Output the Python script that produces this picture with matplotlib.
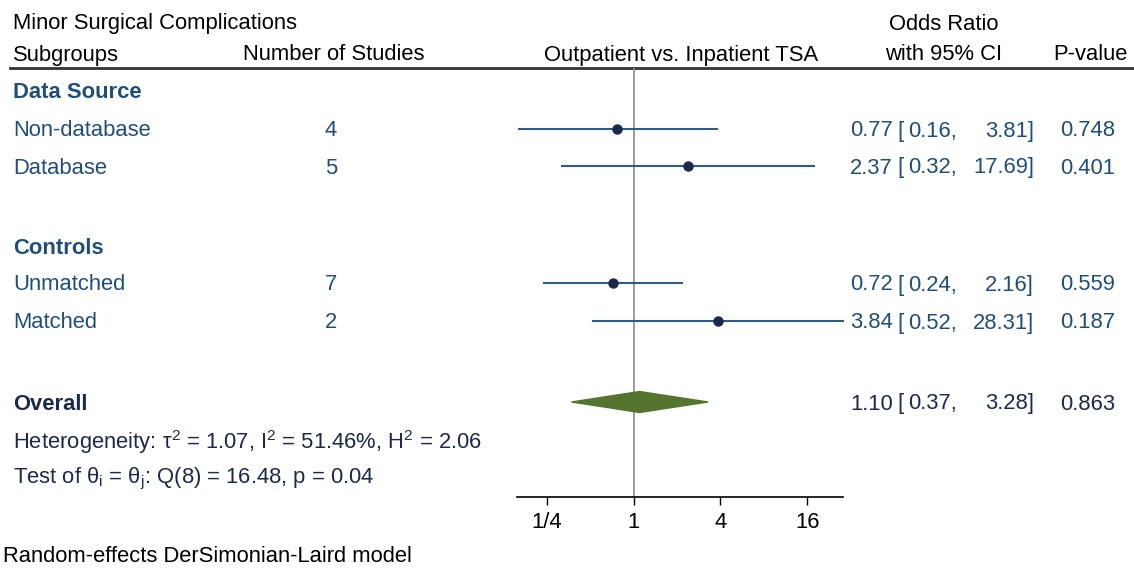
import matplotlib.pyplot as plt
from matplotlib.patches import Polygon

plt.rcParams['font.family'] = ['Liberation Sans', 'DejaVu Sans']
plt.rcParams['mathtext.fontset'] = 'custom'
plt.rcParams['mathtext.rm'] = 'Liberation Sans'
plt.rcParams['mathtext.it'] = 'Liberation Sans:italic'

# data
groups = ['Data Source', 'Controls']
subgroups = ['Non-database', 'Database', 'Unmatched', 'Matched']
n_studies = [4, 5, 7, 2]
odds = [0.77, 2.37, 0.72, 3.84]
ci_low = [0.16, 0.32, 0.24, 0.52]
ci_high = [3.81, 17.69, 2.16, 28.31]
p_vals = ['0.748', '0.401', '0.559', '0.187']

overall_or = 1.10
overall_low = 0.37
overall_high = 3.28
overall_p = '0.863'

# layout (pixel rows of the 1134x568 canvas)
W, H = 1134, 568
group_y = [91, 246]
sub_y = [129, 166, 283, 321]
overall_y = 402
het_y, test_y = 440, 477
top_rule, axis_y = 68, 497
plot_x0, plot_x1 = 517, 843
dy = 2  # text baseline nudge

blue = '#1f4e79'
dark = '#1b2a4a'
line_c = '#2e5b88'
fs = 15.8

fig = plt.figure(figsize=(W / 100, H / 100), dpi=100)

# text layer in pixel coords
tx = fig.add_axes([0, 0, 1, 1])
tx.set_xlim(0, W)
tx.set_ylim(H, 0)
tx.axis('off')

# forest axes
ax = fig.add_axes([plot_x0 / W, 1 - axis_y / H, (plot_x1 - plot_x0) / W, (axis_y - top_rule) / H])
ax.set_xscale('log', base=2)
ax.set_xlim(0.155, 28.31)
ax.set_ylim(axis_y, top_rule)
ax.patch.set_alpha(0)
for s in ['top', 'right', 'left']:
    ax.spines[s].set_visible(False)
ax.spines['bottom'].set_linewidth(1.2)
ax.set_yticks([])
ax.set_xticks([0.25, 1, 4, 16])
ax.set_xticklabels(['1/4', '1', '4', '16'])
ax.xaxis.set_minor_locator(plt.NullLocator())
ax.tick_params(axis='x', length=6, width=1, labelsize=fs, pad=5)

ax.axvline(1, color='#8c8c8c', lw=1.2, zorder=1)

for y, o, lo, hi in zip(sub_y, odds, ci_low, ci_high):
    ax.plot([lo, hi], [y, y], color=line_c, lw=1.5, zorder=2, clip_on=False)
    ax.plot(o, y, 'o', color=dark, ms=6.5, zorder=3, clip_on=False)

dh = 10.5
diamond = Polygon([(overall_low, overall_y), (overall_or, overall_y - dh),
                   (overall_high, overall_y), (overall_or, overall_y + dh)],
                  closed=True, color='#55752f', zorder=3)
ax.add_patch(diamond)

# header
tx.text(13, 24, 'Minor Surgical Complications', fontsize=fs, va='center', color='black')
tx.text(13, 55, 'Subgroups', fontsize=fs, va='center', color='black')
tx.text(243, 55, 'Number of Studies', fontsize=fs, va='center', color='black')
tx.text(818, 55, 'Outpatient vs. Inpatient TSA', fontsize=fs, va='center', ha='right', color='black')
tx.text(944, 24, 'Odds Ratio', fontsize=fs, va='center', ha='center', color='black')
tx.text(944, 55, 'with 95% CI', fontsize=fs, va='center', ha='center', color='black')
tx.text(1090, 55, 'P-value', fontsize=fs, va='center', ha='center', color='black')
tx.plot([10, W], [top_rule, top_rule], color='#333333', lw=2)

for g, y in zip(groups, group_y):
    tx.text(13, y + dy, g, fontsize=fs, va='center', color=blue, fontweight='bold')


def ci_text(y, o, lo, hi, p, c):
    y = y + dy
    tx.text(893, y, f'{o:.2f}', fontsize=fs, va='center', ha='right', color=c)
    tx.text(897, y, '[', fontsize=fs, va='center', ha='left', color=c)
    tx.text(908, y, f'{lo:.2f},', fontsize=fs, va='center', ha='left', color=c)
    tx.text(1034, y, f'{hi:.2f}]', fontsize=fs, va='center', ha='right', color=c)
    tx.text(1060, y, p, fontsize=fs, va='center', ha='left', color=c)


for name, n, y, o, lo, hi, p in zip(subgroups, n_studies, sub_y, odds, ci_low, ci_high, p_vals):
    tx.text(13, y + dy, name, fontsize=fs, va='center', color=blue)
    tx.text(331, y + dy, str(n), fontsize=fs, va='center', ha='center', color=blue)
    ci_text(y, o, lo, hi, p, blue)

tx.text(13, overall_y + dy, 'Overall', fontsize=fs, va='center', color=dark, fontweight='bold')
ci_text(overall_y, overall_or, overall_low, overall_high, overall_p, dark)
tx.text(13, het_y + dy, 'Heterogeneity: τ$^{2}$ = 1.07, I$^{2}$ = 51.46%, H$^{2}$ = 2.06',
        fontsize=fs, va='center', color=dark)
tx.text(13, test_y + dy, r'Test of θ$_{\mathrm{i}}$ = θ$_{\mathrm{j}}$: Q(8) = 16.48, p = 0.04',
        fontsize=fs, va='center', color=dark)

tx.text(3, 556, 'Random-effects DerSimonian-Laird model', fontsize=fs, va='center', color='black')

fig.savefig('out.png', dpi=100)
